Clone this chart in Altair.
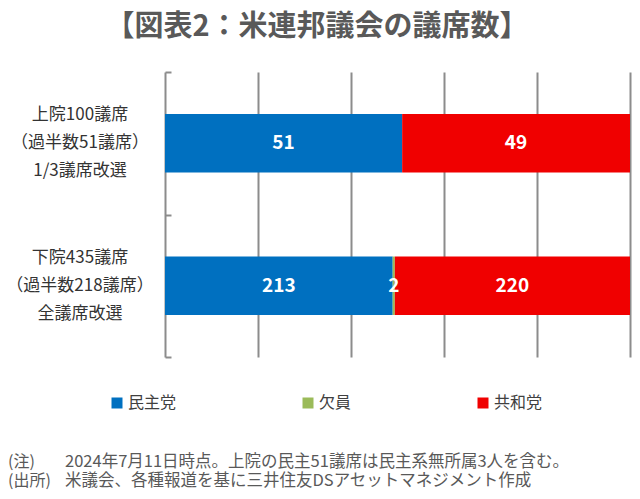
import altair as alt
import pandas as pd

FONT = "Noto Sans CJK JP"

# ---- data ----
chambers = ["上院", "下院"]
chamber_label_lines = [
    ["上院100議席", "（過半数51議席）", "1/3議席改選"],
    ["下院435議席", "（過半数218議席）", "全議席改選"],
]
parties = ["民主党", "欠員", "共和党"]
party_colors = ["#0070C0", "#9BBB59", "#F00000"]
senate_seats = [51, 0, 49]
house_seats = [213, 2, 220]

title_text = "【図表2：米連邦議会の議席数】"
note_heads = ["(注)", "(出所)"]
note_texts = [
    "2024年7月11日時点。上院の民主51議席は民主系無所属3人を含む。",
    "米議会、各種報道を基に三井住友DSアセットマネジメント作成",
]

rows = []
for ch, seats in zip(chambers, [senate_seats, house_seats]):
    for i, (p, s) in enumerate(zip(parties, seats)):
        if s > 0:
            rows.append({"chamber": ch, "party": p, "seats": s, "order": i})
df = pd.DataFrame(rows)

lab_rows = []
for ch, lines in zip(chambers, chamber_label_lines):
    for k, line in enumerate(lines):
        lab_rows.append({"chamber": ch, "label": line, "k": k})
lab_df = pd.DataFrame(lab_rows)
title_df = pd.DataFrame({"t": [title_text]})
note_df = pd.DataFrame({"head": note_heads, "text": note_texts, "line": [0, 1]})

PLOT_H = 285
BAND = PLOT_H / len(chambers)

y_enc = alt.Y(
    "chamber:N",
    sort=chambers,
    scale=alt.Scale(paddingInner=0, paddingOuter=0),
    axis=alt.Axis(
        title=None, labels=False, domain=False, ticks=True, tickBand="extent",
        tickSize=6, tickColor="#8C8C8C", tickWidth=2, offset=-6, grid=False,
    ),
)

base = alt.Chart(df).transform_stack(
    stack="seats", groupby=["chamber"], as_=["x0", "x1"],
    offset="normalize", sort=[alt.SortField("order")],
).transform_calculate(mid="(datum.x0 + datum.x1) / 2")

bars = base.mark_bar(stroke=None, height=alt.RelativeBandSize(0.41)).encode(
    y=y_enc,
    x=alt.X(
        "x0:Q",
        scale=alt.Scale(domain=[0, 1], nice=False, zero=True),
        axis=alt.Axis(
            title=None, labels=False, ticks=False, domain=False, grid=True,
            values=[0, 0.2, 0.4, 0.6, 0.8, 1.0],
            gridColor="#8C8C8C", gridWidth=2, gridOpacity=1,
        ),
    ),
    x2="x1:Q",
    color=alt.Color(
        "party:N",
        scale=alt.Scale(domain=parties, range=party_colors),
        legend=alt.Legend(
            title=None, orient="none", direction="horizontal",
            legendX=-56, legendY=323, padding=0,
            symbolType="square", symbolSize=121, symbolStrokeWidth=0,
            labelFont=FONT, labelFontSize=16, labelColor="#404040",
            labelOffset=3, columnPadding=123,
        ),
    ),
)

nums = base.mark_text(
    font=FONT, fontSize=19, fontWeight="bold", color="white", baseline="middle", align="center",
).encode(
    y=alt.Y("chamber:N", sort=chambers),
    x=alt.X("mid:Q"),
    text=alt.Text("seats:Q"),
)

ylabels = alt.Chart(lab_df).transform_calculate(
    off=f"{BAND / 2} + (datum.k - 1) * 28"
).mark_text(
    font=FONT, fontSize=17, color="#333333", align="center", baseline="middle",
).encode(
    y=alt.Y("chamber:N", sort=chambers),
    yOffset=alt.YOffset("off:Q", scale=None),
    x=alt.value(-85),
    text="label:N",
)

title = alt.Chart(title_df).mark_text(
    font=FONT, fontSize=29, fontWeight="bold", color="#595959", align="center", baseline="middle",
).encode(x=alt.value(152), y=alt.value(-45), text="t:N")

notes_head = alt.Chart(note_df).transform_calculate(
    yy="390 + datum.line * 19"
).mark_text(
    font=FONT, fontSize=16, color="#595959", align="left", baseline="middle",
).encode(x=alt.value(-157), y=alt.Y("yy:Q", scale=None), text="head:N")

notes_body = alt.Chart(note_df).transform_calculate(
    yy="390 + datum.line * 19"
).mark_text(
    font=FONT, fontSize=16.5, color="#595959", align="left", baseline="middle",
).encode(x=alt.value(-100), y=alt.Y("yy:Q", scale=None), text="text:N")

chart = alt.layer(bars, nums, ylabels, title, notes_head, notes_body).properties(
    width=465, height=PLOT_H,
    autosize=alt.AutoSizeParams(type="none"),
    padding={"left": 157, "top": 64, "right": 2, "bottom": 134},
).resolve_scale(y="shared").configure_view(stroke=None)

chart.save("out.html", embed_options={"renderer": "svg", "actions": False})
